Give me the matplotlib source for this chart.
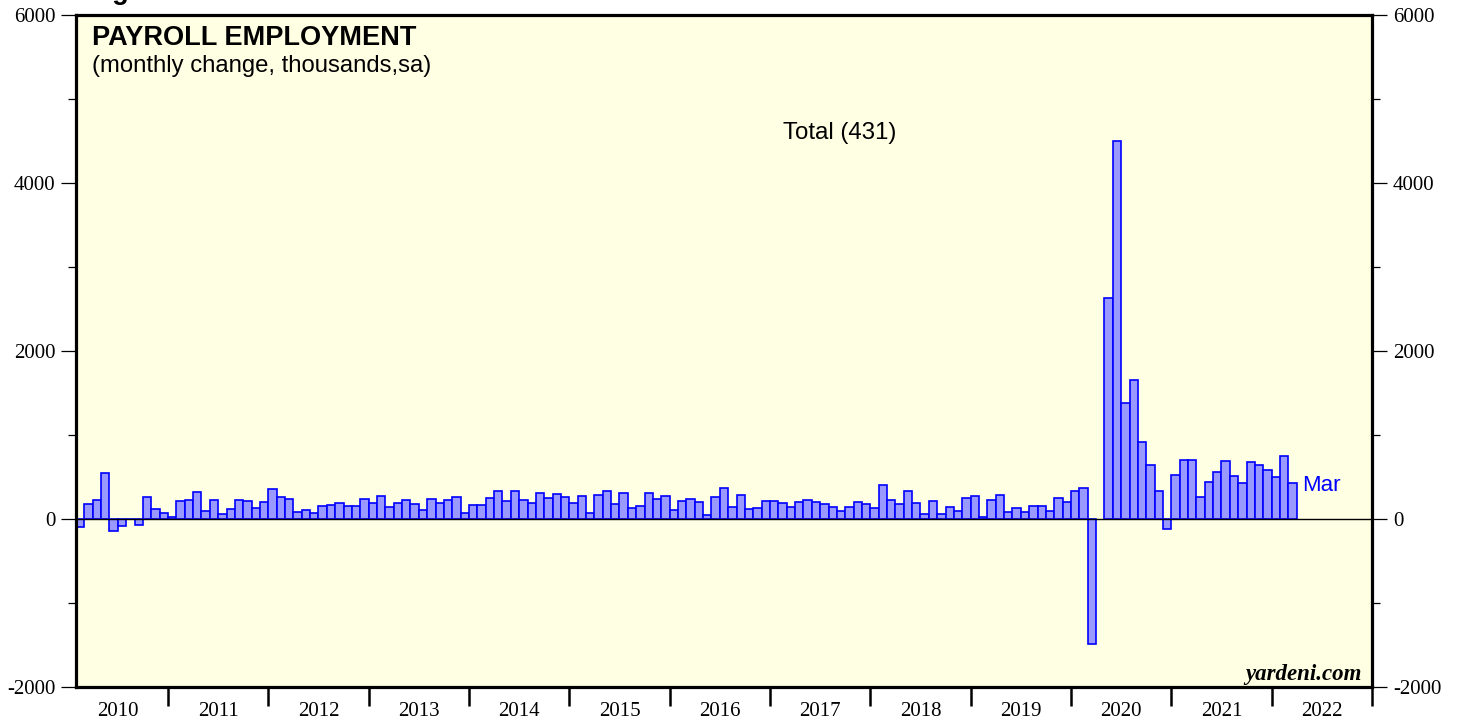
import numpy as np
import matplotlib
matplotlib.use("Agg")
import matplotlib.pyplot as plt
from matplotlib.ticker import FixedLocator, NullFormatter, FixedFormatter

plt.rcParams["axes.unicode_minus"] = False

# monthly change in payrolls (thousands, sa), Feb 2010 .. Mar 2022
# Apr 2020 (about -20,000) falls far below the chart floor and is not drawn
start_year, start_month = 2010, 2
payroll_change = [
    # 2010 (Feb-Dec)
    -95, 179, 230, 544, -143, -87, -5, -67, 266, 123, 71,
    # 2011
    20, 210, 230, 318, 99, 230, 56, 123, 230, 210, 131, 202,
    # 2012
    353, 262, 242, 79, 103, 71, 151, 171, 187, 159, 159, 238,
    # 2013
    191, 278, 139, 191, 222, 183, 111, 242, 187, 222, 262, 67,
    # 2014
    171, 163, 254, 330, 218, 330, 230, 187, 310, 250, 294, 266,
    # 2015
    191, 270, 71, 282, 330, 175, 306, 127, 159, 306, 238, 270,
    # 2016
    111, 214, 238, 202, 44, 258, 373, 143, 290, 119, 131, 218,
    # 2017
    218, 195, 143, 206, 222, 198, 183, 143, 99, 139, 202, 175,
    # 2018
    135, 401, 222, 183, 333, 187, 64, 218, 56, 143, 99, 246,
    # 2019
    278, 24, 222, 290, 79, 127, 79, 159, 159, 95, 250, 202,
    # 2020
    337, 373, -1490, np.nan, 2633, 4498, 1379, 1657, 918, 647, 333, -119,
    # 2021
    520, 707, 703, 266, 445, 556, 687, 516, 425, 675, 647, 588,
    # 2022 (Jan-Mar)
    504, 754, 431,
]
years = list(range(2010, 2023))
y_major = [-2000, 0, 2000, 4000, 6000]
y_minor = [-1000, 1000, 3000, 5000]

title = "PAYROLL EMPLOYMENT"
subtitle = "(monthly change, thousands,sa)"
series_label = "Total (431)"
last_label = "Mar"

# bar positions: each month spans its own slot on a decimal-year axis
n = len(payroll_change)
month_idx = np.arange(n) + (start_month - 1)
x = start_year + month_idx / 12.0
vals = np.array(payroll_change, dtype=float)

W, H = 1458, 719
fig = plt.figure(figsize=(W / 100, H / 100), dpi=100)
ax = fig.add_axes([76 / W, 1 - 687 / H, (1372 - 76) / W, 672 / H])
ax.set_facecolor("#FFFFE3")

ok = ~np.isnan(vals)
ax.bar(x[ok], vals[ok], width=1 / 12, align="edge",
       color="#9999FF", edgecolor="#0000FF", linewidth=1.2, zorder=2)
ax.axhline(0, color="black", linewidth=1.0, zorder=3)

ax.set_xlim(start_year + 1 / 12, years[-1] + 1)
ax.set_ylim(-2000, 6000)

for s in ax.spines.values():
    s.set_linewidth(2.3)
    s.set_zorder(5)

# y axis on both sides
ax.yaxis.set_major_locator(FixedLocator(y_major))
ax.yaxis.set_minor_locator(FixedLocator(y_minor))
ax.tick_params(axis="y", which="both", direction="out", left=True, right=True,
               labelleft=True, labelright=True, width=0.9, labelsize=15, pad=4)
ax.tick_params(axis="y", which="major", length=11)
ax.tick_params(axis="y", which="minor", length=6)
for lab in ax.get_yticklabels():
    lab.set_family("Liberation Serif")

# x axis: ticks at year boundaries, labels centred in each year
ax.xaxis.set_major_locator(FixedLocator([yr + 1 for yr in years]))
ax.xaxis.set_major_formatter(NullFormatter())
ax.xaxis.set_minor_locator(FixedLocator([yr + 0.5 for yr in years]))
ax.xaxis.set_minor_formatter(FixedFormatter([str(yr) for yr in years]))
ax.tick_params(axis="x", which="major", direction="out", length=14, width=1.8)
ax.tick_params(axis="x", which="minor", length=0, labelsize=15, pad=11)
for lab in ax.xaxis.get_minorticklabels():
    lab.set_family("Liberation Serif")

# texts
ax.text((92 - 76) / 1296, (687 - 45) / 672, title, transform=ax.transAxes,
        fontsize=19.5, fontweight="bold", family="Liberation Sans", va="baseline")
ax.text((92 - 76) / 1296, (687 - 72) / 672, subtitle, transform=ax.transAxes,
        fontsize=17.2, family="Liberation Sans", va="baseline")
ax.text((840 - 76) / 1296, (687 - 133) / 672, series_label, transform=ax.transAxes,
        fontsize=17.3, family="Liberation Sans", ha="center", va="center")
ax.annotate(last_label, xy=(x[-1] + 1 / 12, vals[-1]), xytext=(4, -2),
            textcoords="offset points", color="#0000FF", fontsize=16,
            family="Liberation Sans", va="center", ha="left")
ax.text((1362 - 76) / 1296, (687 - 680) / 672, "yardeni.com", transform=ax.transAxes,
        fontsize=16.5, family="Liberation Serif", fontweight="bold", style="italic",
        ha="right", va="baseline")

# top-left figure label, mostly cut off by the image edge (as in the source)
fig.text(88 / W, 1 + 1 / H, "Figure", fontsize=19.5, fontweight="bold",
         family="Liberation Sans", va="baseline")

fig.savefig("out.png", dpi=100)
